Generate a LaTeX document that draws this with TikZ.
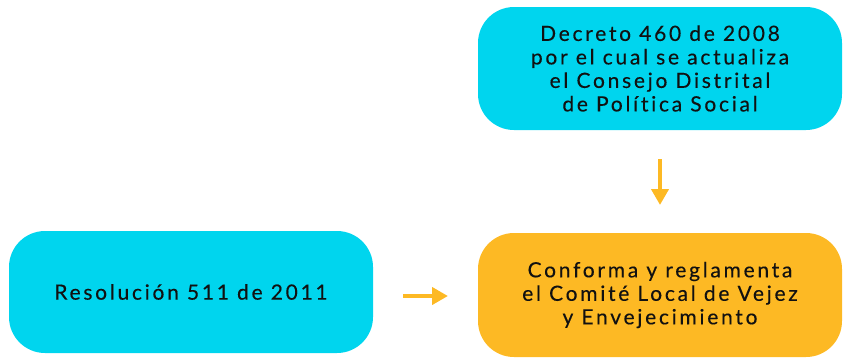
\documentclass[tikz,border=0pt]{standalone}
\usepackage{fontspec}
\setmainfont{Lato}[LetterSpace=13, FakeBold=0.25, Ligatures={NoCommon,NoRare}]
\usetikzlibrary{arrows.meta}
\definecolor{cyanbox}{HTML}{00D5EE}
\definecolor{orangebox}{HTML}{FDB924}
\definecolor{txt}{HTML}{111111}
\tikzset{
  box/.style={rounded corners=36pt, inner sep=0pt, text=txt, align=center,
    font=\fontsize{21}{23.5}\selectfont},
  cbox/.style={box, fill=cyanbox},
  obox/.style={box, fill=orangebox},
  conn/.style={draw=orangebox, line width=4.5pt, -{Triangle[length=16pt,width=17pt]}}
}
\begin{document}
\begin{tikzpicture}[x=1pt,y=-1pt]
\useasboundingbox (0,0) rectangle (843,360);
\node[cbox, minimum width=364pt, minimum height=123pt] (dec) at (660,68.5) {Decreto 460 de 2008\\por el cual se actualiza\\el Consejo Distrital\\de Política Social};
\node[obox, minimum width=364pt, minimum height=124pt] (conf) at (660,295) {Conforma y reglamenta\\el Comité Local de Vejez\\y Envejecimiento};
\node[cbox, minimum width=364pt, minimum height=122pt] (res) at (191,292) {Resolución 511 de 2011};
\coordinate (a1s) at (660,159);
\coordinate (a1e) at (660,205);
\coordinate (a2s) at (403,296);
\coordinate (a2e) at (448,296);
\draw[conn] (a1s) -- (a1e);
\draw[conn] (a2s) -- (a2e);
\end{tikzpicture}
\end{document}
